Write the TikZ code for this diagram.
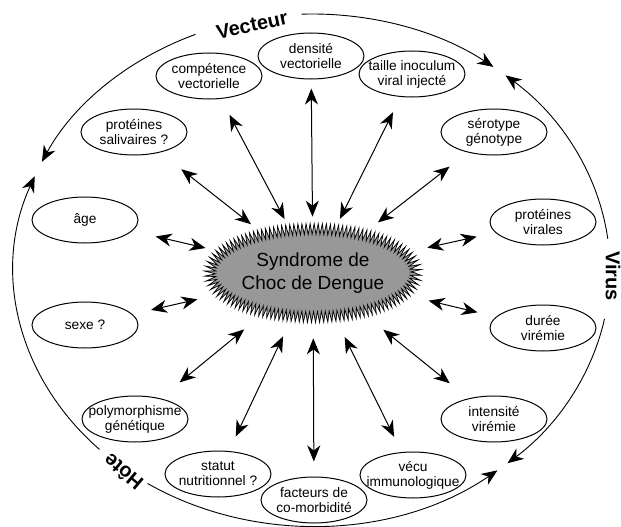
\documentclass[tikz,border=0pt]{standalone}
\usepackage{fontspec}
\setmainfont{Liberation Sans}
\usepackage{tikz}
\usetikzlibrary{shapes.geometric, arrows.meta, decorations.pathmorphing}

\begin{document}
\begin{tikzpicture}[x=1pt, y=1pt,
  ponta/.tip={Stealth[length=16pt, width=13pt, inset=5pt]},
  fator/.style={ellipse, draw, line width=1pt, minimum width=106pt, minimum height=46pt,
    inner xsep=-14pt, inner ysep=0pt, align=center, font=\fontsize{13.7}{15}\selectfont},
  nucleo/.style={ellipse, draw, fill=cinza, line width=0.7pt, minimum width=206pt,
    minimum height=88pt, inner sep=0pt, align=center, decorate,
    decoration={zigzag, segment length=4pt, amplitude=5.5pt},
    font=\fontsize{19}{23}\selectfont},
  grupo/.style={font=\fontsize{20}{24}\selectfont\bfseries, inner sep=1pt},
  liga/.style={ponta-ponta, line width=1pt},
  ciclo/.style={-ponta, line width=0.9pt}]
% --- ELIPSES COM TEXTO, SETAS DUPLAS E CICLO EXTERNO ---
\definecolor{cinza}{HTML}{989898}
\useasboundingbox (0,0) rectangle (621,-527);

% LAYER 1: Nucleo central
\node[nucleo] (sdc) at (313,-273) {Syndrome de\\Choc de Dengue};

% LAYER 2: Fatores (sentido horario)
\node[fator] (salivaires) at (134,-132) {protéines\\salivaires ?};
\node[fator] (competence) at (209,-76) {compétence\\vectorielle};
\node[fator] (densite) at (311,-56) {densité\\vectorielle};
\node[fator] (inoculum) at (412,-74) {taille inoculum\\viral injecté};
\node[fator] (serotype) at (494,-132) {sérotype\\génotype};
\node[fator] (proteines) at (543,-222) {protéines\\virales};
\node[fator] (duree) at (543,-328) {durée\\virémie};
\node[fator] (intensite) at (494,-419) {intensité\\virémie};
\node[fator] (vecu) at (413,-475) {vécu\\immunologique};
\node[fator] (facteurs) at (314,-500) {facteurs de\\co-morbidité};
\node[fator] (statut) at (218,-474) {statut\\nutritionnel ?};
\node[fator] (poly) at (135,-419) {polymorphisme\\génétique};
\node[fator] (sexe) at (85,-325) {sexe ?};
\node[fator] (age) at (85,-220) {âge};

% LAYER 3: Setas duplas
\draw[liga, shorten <=27pt, shorten >=16pt] (salivaires) -- (sdc);
\draw[liga, shorten <=18pt, shorten >=12pt] (competence) -- (sdc);
\draw[liga, shorten <=9pt, shorten >=12pt] (densite) -- (sdc);
\draw[liga, shorten <=17pt, shorten >=12pt] (inoculum) -- (sdc);
\draw[liga, shorten <=23pt, shorten >=19pt] (serotype) -- (sdc);
\draw[liga, shorten <=19pt, shorten >=23pt] (proteines) -- (sdc);
\draw[liga, shorten <=19pt, shorten >=26pt] (duree) -- (sdc);
\draw[liga, shorten <=24pt, shorten >=28pt] (intensite) -- (sdc);
\draw[liga, shorten <=17pt, shorten >=23pt] (vecu) -- (sdc);
\draw[liga, shorten <=15pt, shorten >=21pt] (facteurs) -- (sdc);
\draw[liga, shorten <=16pt, shorten >=22pt] (statut) -- (sdc);
\draw[liga, shorten <=25pt, shorten >=27pt] (poly) -- (sdc);
\draw[liga, shorten <=19pt, shorten >=25pt] (sexe) -- (sdc);
\draw[liga, shorten <=24pt, shorten >=17pt] (age) -- (sdc);

% LAYER 4: Ciclo Vecteur / Virus / Hote
\node[grupo, rotate=12] (vecteur) at (252,-25) {Vecteur};
\node[grupo, rotate=-90] (virus) at (613,-276) {Virus};
\node[grupo, rotate=140] (hote) at (123,-472) {Hôte};
\coordinate (o) at (312,-270);
\draw[ciclo] ([shift={(92:298 and 256)}]o) arc[start angle=92, end angle=52.5, x radius=298, y radius=256];
\draw[ciclo] ([shift={(7:298 and 256)}]o) arc[start angle=7, end angle=49.5, x radius=298, y radius=256];
\draw[ciclo] ([shift={(113:298 and 256)}]o) arc[start angle=113, end angle=155, x radius=298, y radius=256];
\draw[ciclo] ([shift={(224.5:298 and 256)}]o) arc[start angle=224.5, end angle=158.5, x radius=298, y radius=256];
\draw[ciclo] ([shift={(236.5:298 and 256)}]o) arc[start angle=236.5, end angle=308.5, x radius=298, y radius=256];
\draw[ciclo] ([shift={(349:298 and 256)}]o) arc[start angle=349, end angle=311, x radius=298, y radius=256];
\end{tikzpicture}
\end{document}
